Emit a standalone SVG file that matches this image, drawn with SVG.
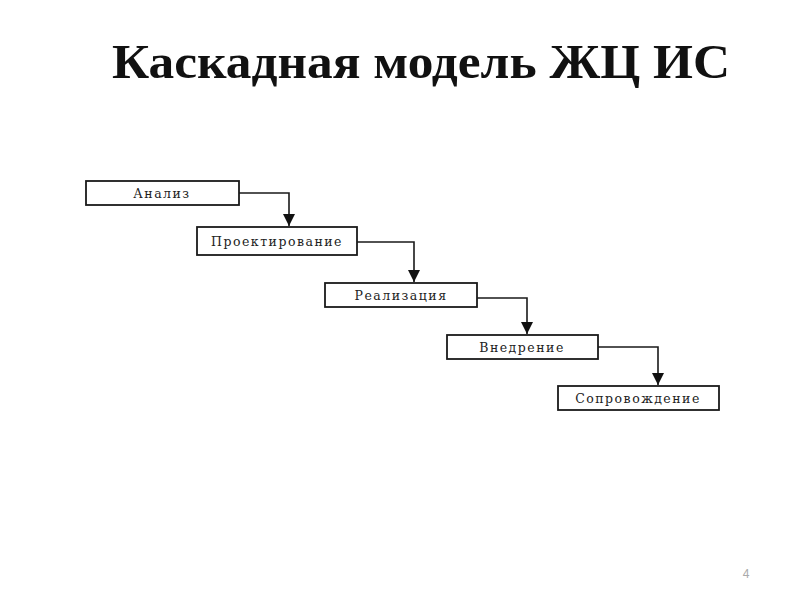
<svg xmlns="http://www.w3.org/2000/svg" width="800" height="600" viewBox="0 0 800 600">
<style>
.box{fill:#fff;stroke:#1a1a1a;stroke-width:1.8}
.lbl{font-family:"DejaVu Serif","Liberation Serif",serif;font-size:12.5px;fill:#222;text-anchor:middle;letter-spacing:1.5px}
.con{fill:none;stroke:#1a1a1a;stroke-width:1.6}
</style>
<defs>
<marker id="arr" viewBox="0 0 12 12" refX="12" refY="6" markerWidth="12" markerHeight="12" markerUnits="userSpaceOnUse" orient="auto">
<path d="M0,0 L12,6 L0,12 Z" fill="#111"/>
</marker>
</defs>
<rect width="800" height="600" fill="#fff"/>
<text x="112" y="78" font-family="'Liberation Serif',serif" font-weight="bold" font-size="49" textLength="618" lengthAdjust="spacingAndGlyphs" fill="#111">Каскадная модель ЖЦ ИС</text>
<g id="connectors">
<path class="con" d="M239,193 H289 V226" marker-end="url(#arr)"/>
<path class="con" d="M357,242 H414 V282" marker-end="url(#arr)"/>
<path class="con" d="M477,298 H527 V334" marker-end="url(#arr)"/>
<path class="con" d="M598,347 H658 V385" marker-end="url(#arr)"/>
</g>
<g id="analiz"><rect class="box" x="86" y="181" width="153" height="24"/><text class="lbl" x="162" y="197.5">Анализ</text></g>
<g id="proekt"><rect class="box" x="197" y="227" width="160" height="28"/><text class="lbl" x="277" y="245.5">Проектирование</text></g>
<g id="realiz"><rect class="box" x="325" y="283" width="152" height="24"/><text class="lbl" x="401" y="299.5">Реализация</text></g>
<g id="vnedr"><rect class="box" x="447" y="335" width="151" height="24"/><text class="lbl" x="522" y="351.5">Внедрение</text></g>
<g id="soprov"><rect class="box" x="558" y="386" width="161" height="24"/><text class="lbl" x="638" y="402.5">Сопровождение</text></g>
<text x="746" y="578" font-family="'Liberation Sans',sans-serif" font-size="12" fill="#aaa" text-anchor="middle">4</text>
</svg>
